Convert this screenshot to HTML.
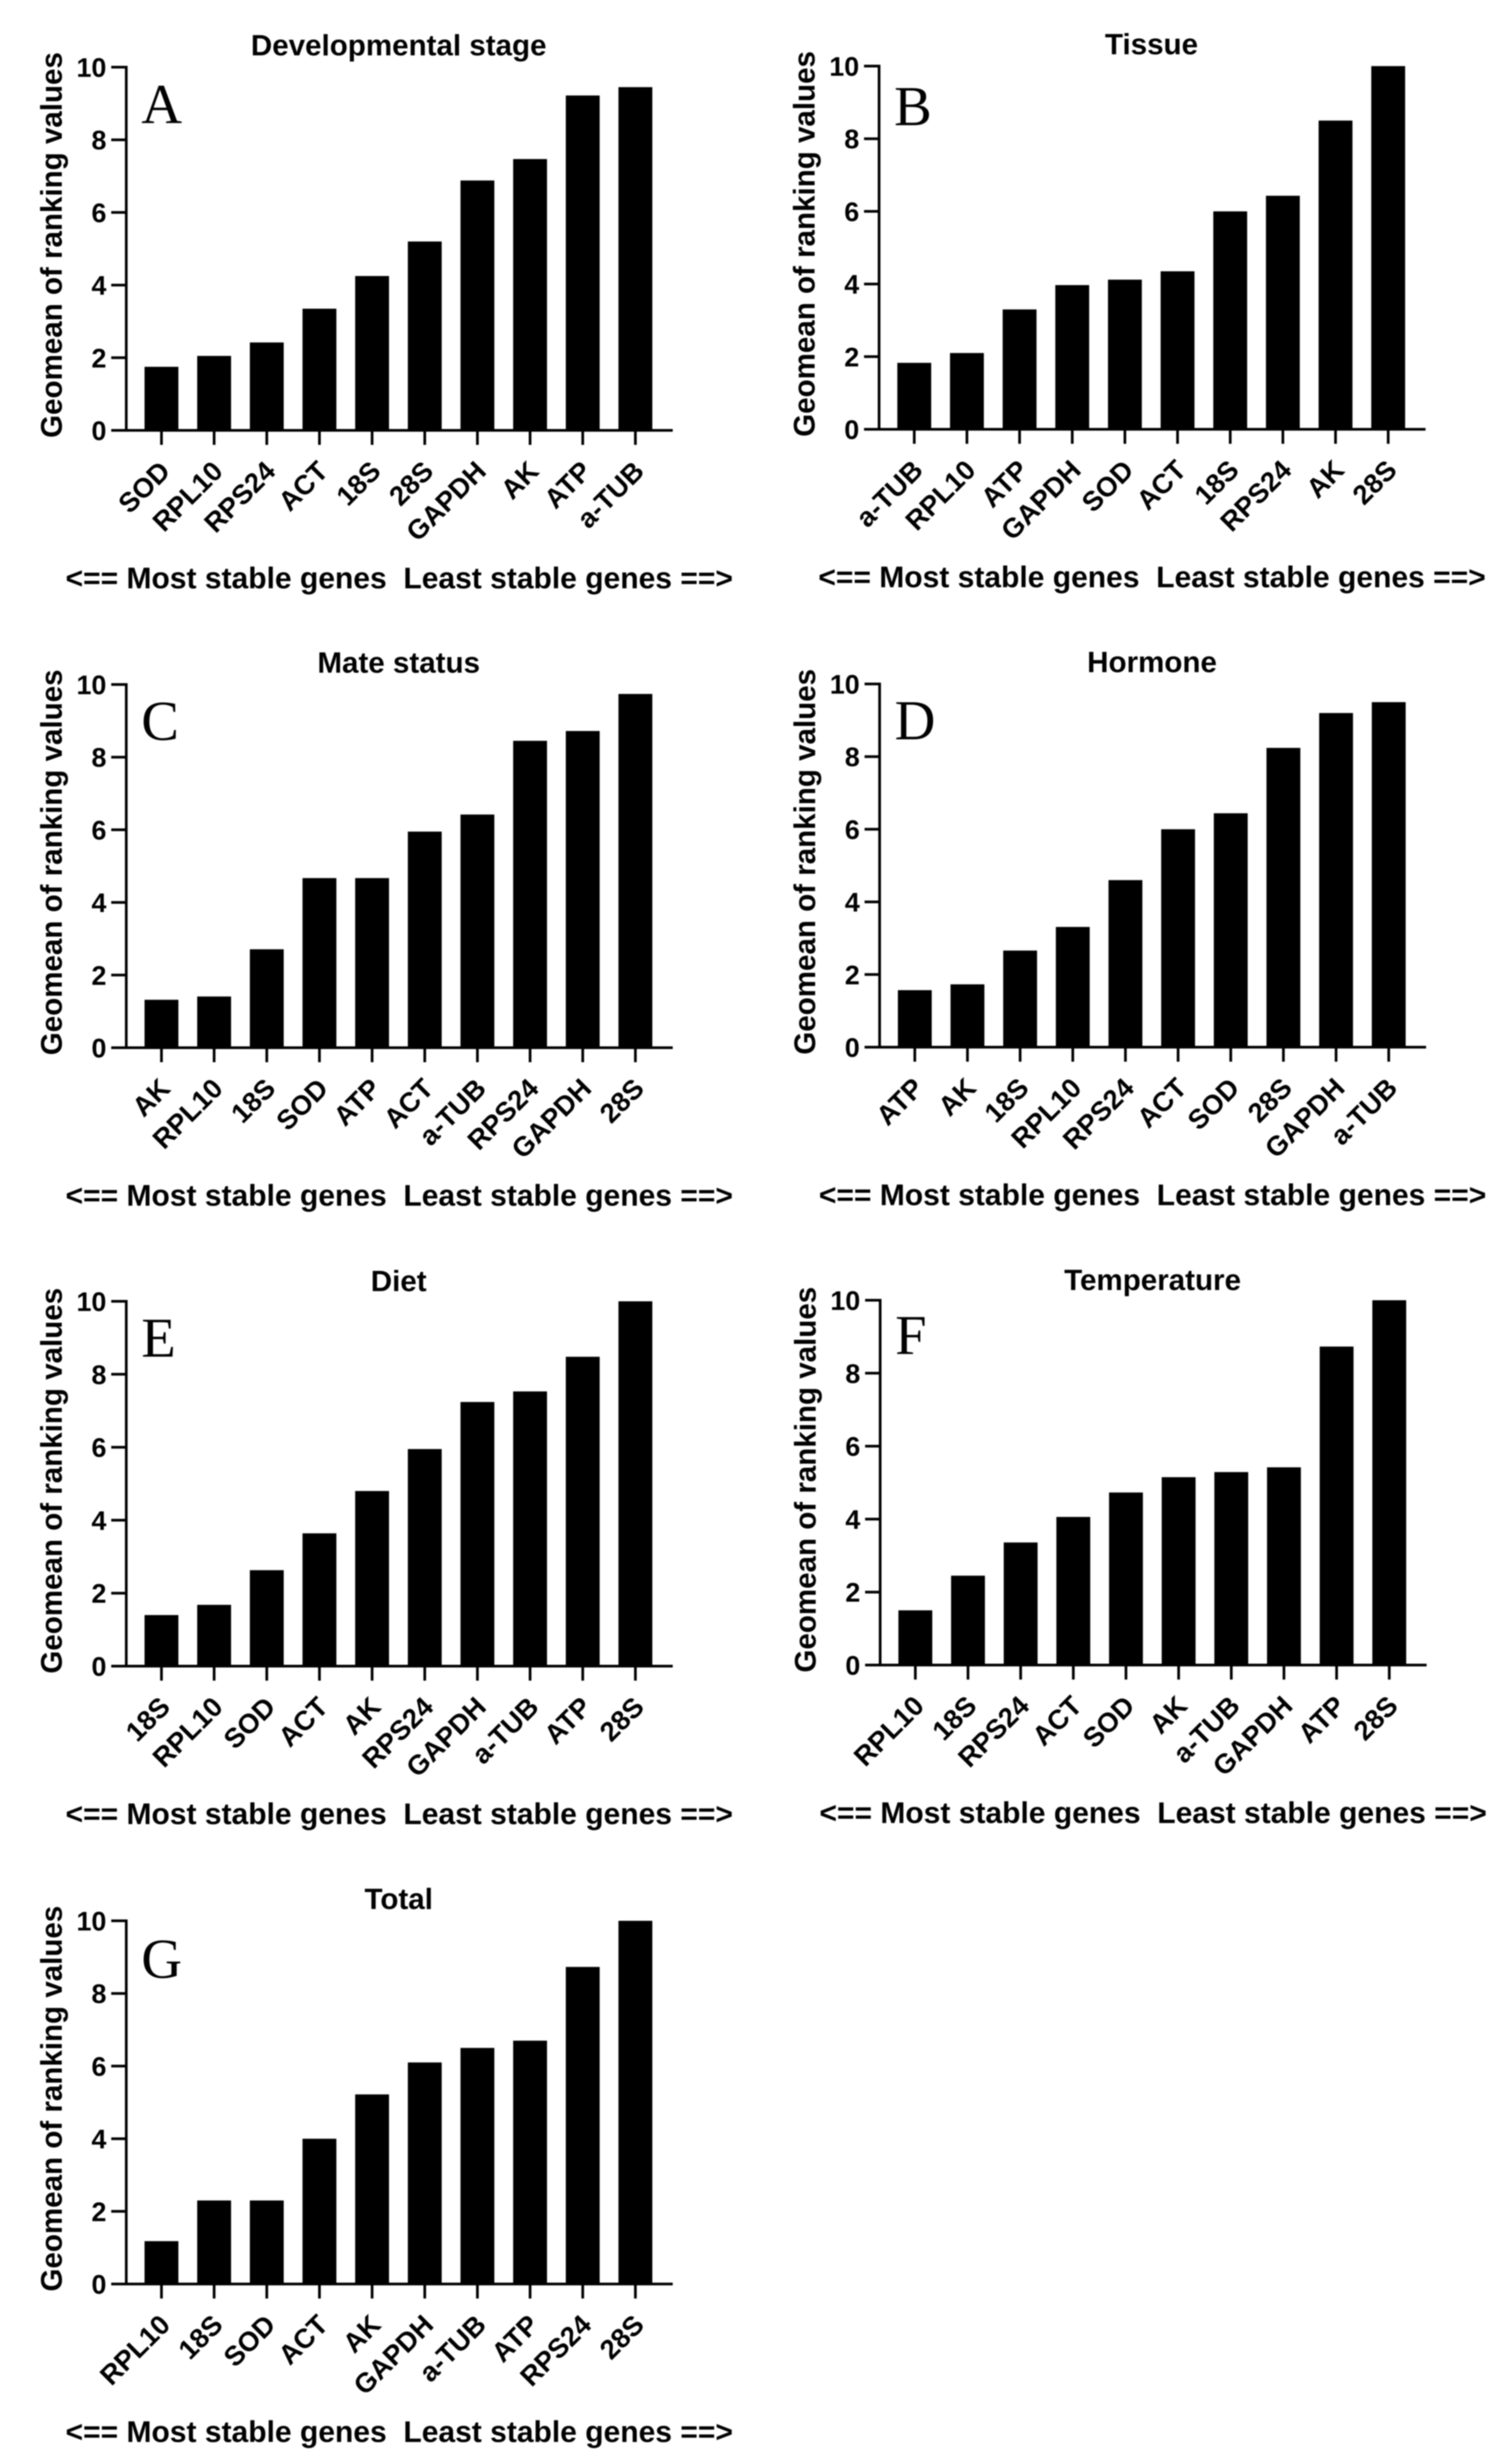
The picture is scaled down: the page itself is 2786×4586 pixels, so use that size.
<!DOCTYPE html>
<html lang="en">
<head>
<meta charset="utf-8">
<title>Geomean of ranking values by condition</title>
<style>
html,body{margin:0;padding:0;background:#fff;}
#chart{display:block;width:2786px;height:4586px;filter:blur(1.1px);}
text{fill:#000;font-family:"Liberation Sans",Arial,sans-serif;font-weight:bold;}
.letter{font-family:"Liberation Serif","Times New Roman",serif;font-weight:normal;font-size:105px;}
</style>
</head>
<body>
<svg id="chart" xmlns="http://www.w3.org/2000/svg" width="2786" height="4586" viewBox="0 0 2786 4586"></svg>
<script>
const yTickLabels = [0, 2, 4, 6, 8, 10];

const devGenes = ["SOD", "RPL10", "RPS24", "ACT", "18S", "28S", "GAPDH", "AK", "ATP", "a-TUB"];
const devValues = [1.75, 2.05, 2.42, 3.35, 4.25, 5.2, 6.88, 7.47, 9.22, 9.45];

const tissueGenes = ["a-TUB", "RPL10", "ATP", "GAPDH", "SOD", "ACT", "18S", "RPS24", "AK", "28S"];
const tissueValues = [1.83, 2.1, 3.3, 3.97, 4.12, 4.35, 6.0, 6.43, 8.5, 10];

const mateGenes = ["AK", "RPL10", "18S", "SOD", "ATP", "ACT", "a-TUB", "RPS24", "GAPDH", "28S"];
const mateValues = [1.32, 1.41, 2.71, 4.67, 4.67, 5.95, 6.42, 8.45, 8.72, 9.74];

const hormoneGenes = ["ATP", "AK", "18S", "RPL10", "RPS24", "ACT", "SOD", "28S", "GAPDH", "a-TUB"];
const hormoneValues = [1.57, 1.73, 2.66, 3.31, 4.6, 6.0, 6.44, 8.24, 9.2, 9.5];

const dietGenes = ["18S", "RPL10", "SOD", "ACT", "AK", "RPS24", "GAPDH", "a-TUB", "ATP", "28S"];
const dietValues = [1.4, 1.68, 2.63, 3.64, 4.8, 5.95, 7.24, 7.53, 8.48, 10];

const tempGenes = ["RPL10", "18S", "RPS24", "ACT", "SOD", "AK", "a-TUB", "GAPDH", "ATP", "28S"];
const tempValues = [1.5, 2.45, 3.36, 4.06, 4.73, 5.15, 5.29, 5.42, 8.73, 10];

const totalGenes = ["RPL10", "18S", "SOD", "ACT", "AK", "GAPDH", "a-TUB", "ATP", "RPS24", "28S"];
const totalValues = [1.18, 2.3, 2.3, 4.0, 5.22, 6.1, 6.5, 6.7, 8.73, 10];

const NS = "http://www.w3.org/2000/svg";
const root = document.getElementById("chart");

function make(tag, parent) {
  const node = document.createElementNS(NS, tag);
  parent.appendChild(node);
  return node;
}

function drawPanel(letter, title, genes, values, originX, originY, plotHeight, letterY) {
  const yMax = 10;
  const firstOffset = 65.5;
  const step = 98;
  const barWidth = 63;
  const yScale = function (v) { return originY - (v / yMax) * plotHeight; };
  const xScale = function (i) { return originX + firstOffset + i * step; };
  const slug = title.toLowerCase().replace(/\s+/g, "-");

  const g = make("g", root);
  
  

  const titleEl = make("text", g);
  
  
  titleEl.setAttribute("x", originX + 507);
  titleEl.setAttribute("y", originY - 698);
  titleEl.setAttribute("text-anchor", "middle");
  titleEl.setAttribute("font-size", "55");
  titleEl.textContent = title;

  const letterEl = make("text", g);
  
  
  letterEl.setAttribute("class", "letter");
  letterEl.setAttribute("x", originX + 28);
  letterEl.setAttribute("y", originY - letterY);
  letterEl.textContent = letter;

  const yTitle = make("text", g);
  
  
  yTitle.setAttribute("transform", "translate(" + (originX - 120) + "," + (originY - 345) + ") rotate(-90)");
  yTitle.setAttribute("text-anchor", "middle");
  yTitle.setAttribute("font-size", "56");
  yTitle.setAttribute("textLength", "718");
  yTitle.setAttribute("lengthAdjust", "spacingAndGlyphs");
  yTitle.textContent = "Geomean of ranking values";

  values.forEach(function (v, i) {
    const bar = make("rect", g);
    
    
    bar.setAttribute("x", xScale(i) - barWidth / 2);
    bar.setAttribute("y", yScale(v));
    bar.setAttribute("width", barWidth);
    bar.setAttribute("height", yScale(0) - yScale(v));
    bar.setAttribute("fill", "#000");
  });

  const yAxis = make("line", g);
  
  
  yAxis.setAttribute("x1", originX);
  yAxis.setAttribute("x2", originX);
  yAxis.setAttribute("y1", yScale(yMax) - 2.5);
  yAxis.setAttribute("y2", yScale(0) + 2.5);
  yAxis.setAttribute("stroke", "#000");
  yAxis.setAttribute("stroke-width", "5");

  const xAxis = make("line", g);
  
  
  xAxis.setAttribute("x1", originX - 28);
  xAxis.setAttribute("x2", originX + 1017);
  xAxis.setAttribute("y1", yScale(0));
  xAxis.setAttribute("y2", yScale(0));
  xAxis.setAttribute("stroke", "#000");
  xAxis.setAttribute("stroke-width", "5");

  yTickLabels.forEach(function (t) {
    const tick = make("line", g);
    
    
    tick.setAttribute("x1", originX - 28);
    tick.setAttribute("x2", originX);
    tick.setAttribute("y1", yScale(t));
    tick.setAttribute("y2", yScale(t));
    tick.setAttribute("stroke", "#000");
    tick.setAttribute("stroke-width", "5");

    const label = make("text", g);
    
    
    label.setAttribute("x", originX - 37);
    label.setAttribute("y", yScale(t) + 18);
    label.setAttribute("text-anchor", "end");
    label.setAttribute("font-size", "50");
    label.textContent = String(t);
  });

  genes.forEach(function (name, i) {
    const tick = make("line", g);
    
    
    tick.setAttribute("x1", xScale(i));
    tick.setAttribute("x2", xScale(i));
    tick.setAttribute("y1", yScale(0));
    tick.setAttribute("y2", yScale(0) + 27);
    tick.setAttribute("stroke", "#000");
    tick.setAttribute("stroke-width", "5");

    const label = make("text", g);
    
    
    label.setAttribute("transform", "translate(" + (xScale(i) + 19) + "," + (yScale(0) + 79) + ") rotate(-45)");
    label.setAttribute("text-anchor", "end");
    label.setAttribute("font-size", "51");
    label.textContent = name;
  });

  const caption = make("text", g);
  
  
  caption.setAttribute("x", originX - 113);
  caption.setAttribute("y", originY + 294);
  caption.setAttribute("font-size", "56");
  caption.setAttribute("textLength", "1242");
  caption.setAttribute("lengthAdjust", "spacingAndGlyphs");
  caption.textContent = "<== Most stable genes \u00A0Least stable genes ==>";
}

drawPanel("A", "Developmental stage", devGenes, devValues, 235, 801, 676, 572);
drawPanel("B", "Tissue", tissueGenes, tissueValues, 1636, 799, 676, 566);
drawPanel("C", "Mate status", mateGenes, mateValues, 235, 1950, 676, 573);
drawPanel("D", "Hormone", hormoneGenes, hormoneValues, 1637, 1949, 676, 573);
drawPanel("E", "Diet", dietGenes, dietValues, 235, 3101, 679, 576);
drawPanel("F", "Temperature", tempGenes, tempValues, 1638, 3099, 679, 579);
drawPanel("G", "Total", totalGenes, totalValues, 235, 4251, 676, 570);
</script>
</body>
</html>
